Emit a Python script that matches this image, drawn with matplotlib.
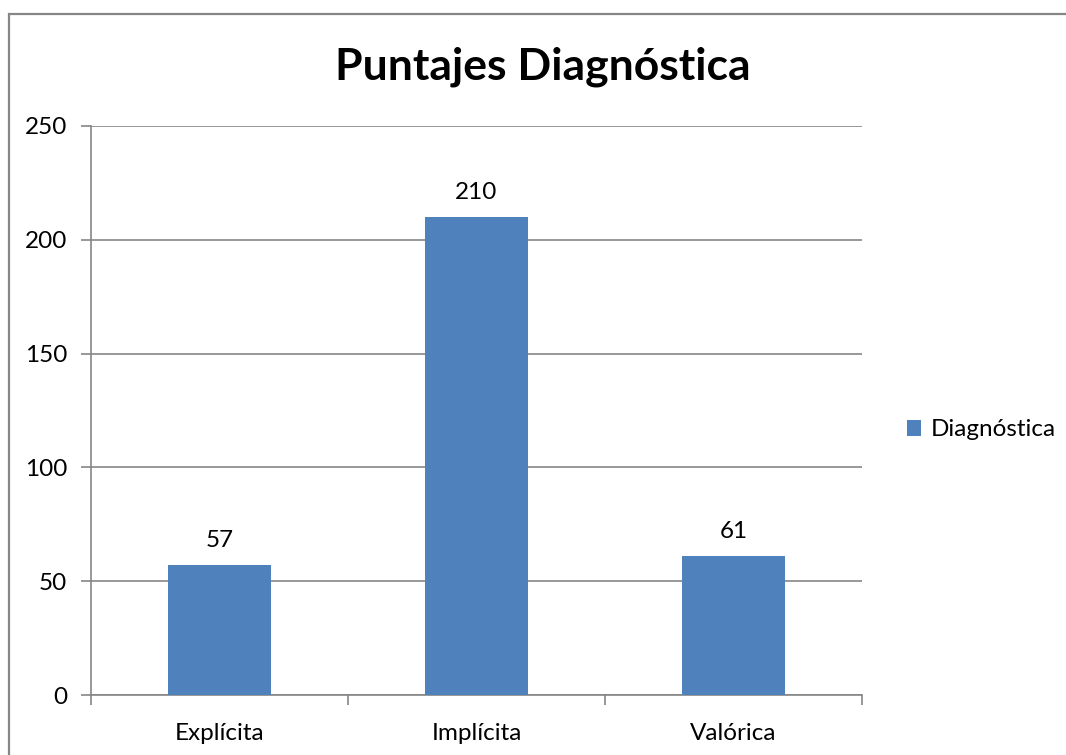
import matplotlib
matplotlib.use("Agg")
import matplotlib.pyplot as plt
from matplotlib.patches import Rectangle

categories = ["Explícita", "Implícita", "Valórica"]
values = [57, 210, 61]
series_name = "Diagnóstica"
title = "Puntajes Diagnóstica"
y_ticks = [0, 50, 100, 150, 200, 250]

bar_color = "#4F81BD"
grid_color = "#868686"

plt.rcParams['font.family'] = ['Lato', 'DejaVu Sans']

W, H = 1066, 755
fig = plt.figure(figsize=(W / 100, H / 100), dpi=100)
ax = fig.add_axes([91 / W, 1 - 695 / H, (862 - 91) / W, (695 - 126) / H])

# outer chart border (right and bottom run off the image)
fig.patches.append(Rectangle((9 / W, -0.1), 1.5, 1.1 - 14 / H, transform=fig.transFigure,
                             fill=False, edgecolor=grid_color, linewidth=1.6))

x = range(len(categories))
bars = ax.bar(x, values, width=0.4, color=bar_color, zorder=3, label=series_name)
for b, v in zip(bars, values):
    ax.annotate(str(v), (b.get_x() + b.get_width() / 2, v), xytext=(0, 10),
                textcoords="offset points", ha="center", va="bottom", fontsize=17.5)

ax.set_xlim(-0.5, len(categories) - 0.5)
ax.set_ylim(0, 250)
ax.set_yticks(y_ticks)
ax.yaxis.grid(True, color=grid_color, linewidth=1.2, zorder=0)
ax.set_xticks(x)
ax.set_xticklabels(categories)
ax.set_xticks([i - 0.5 for i in range(len(categories) + 1)], minor=True)
ax.tick_params(axis='x', which='major', length=0, pad=20, labelsize=17.5)
ax.tick_params(axis='x', which='minor', length=7, width=1.2, color=grid_color, direction='out')
ax.tick_params(axis='y', length=7, width=1.2, color=grid_color, labelsize=17.5, pad=10)

for s in ["top", "right"]:
    ax.spines[s].set_visible(False)
for s in ["left", "bottom"]:
    ax.spines[s].set_color(grid_color)
    ax.spines[s].set_linewidth(1.2)

fig.text(543 / W, 1 - 67 / H, title, ha="center", va="center", fontsize=32, fontweight="bold")

fig.legend(handles=[bars], labels=[series_name], loc="center left",
           bbox_to_anchor=(885 / W, 1 - 430 / H), frameon=False, fontsize=17.5,
           handlelength=0.6, handleheight=0.6, handletextpad=0.4)

fig.savefig("out.png", dpi=100)
